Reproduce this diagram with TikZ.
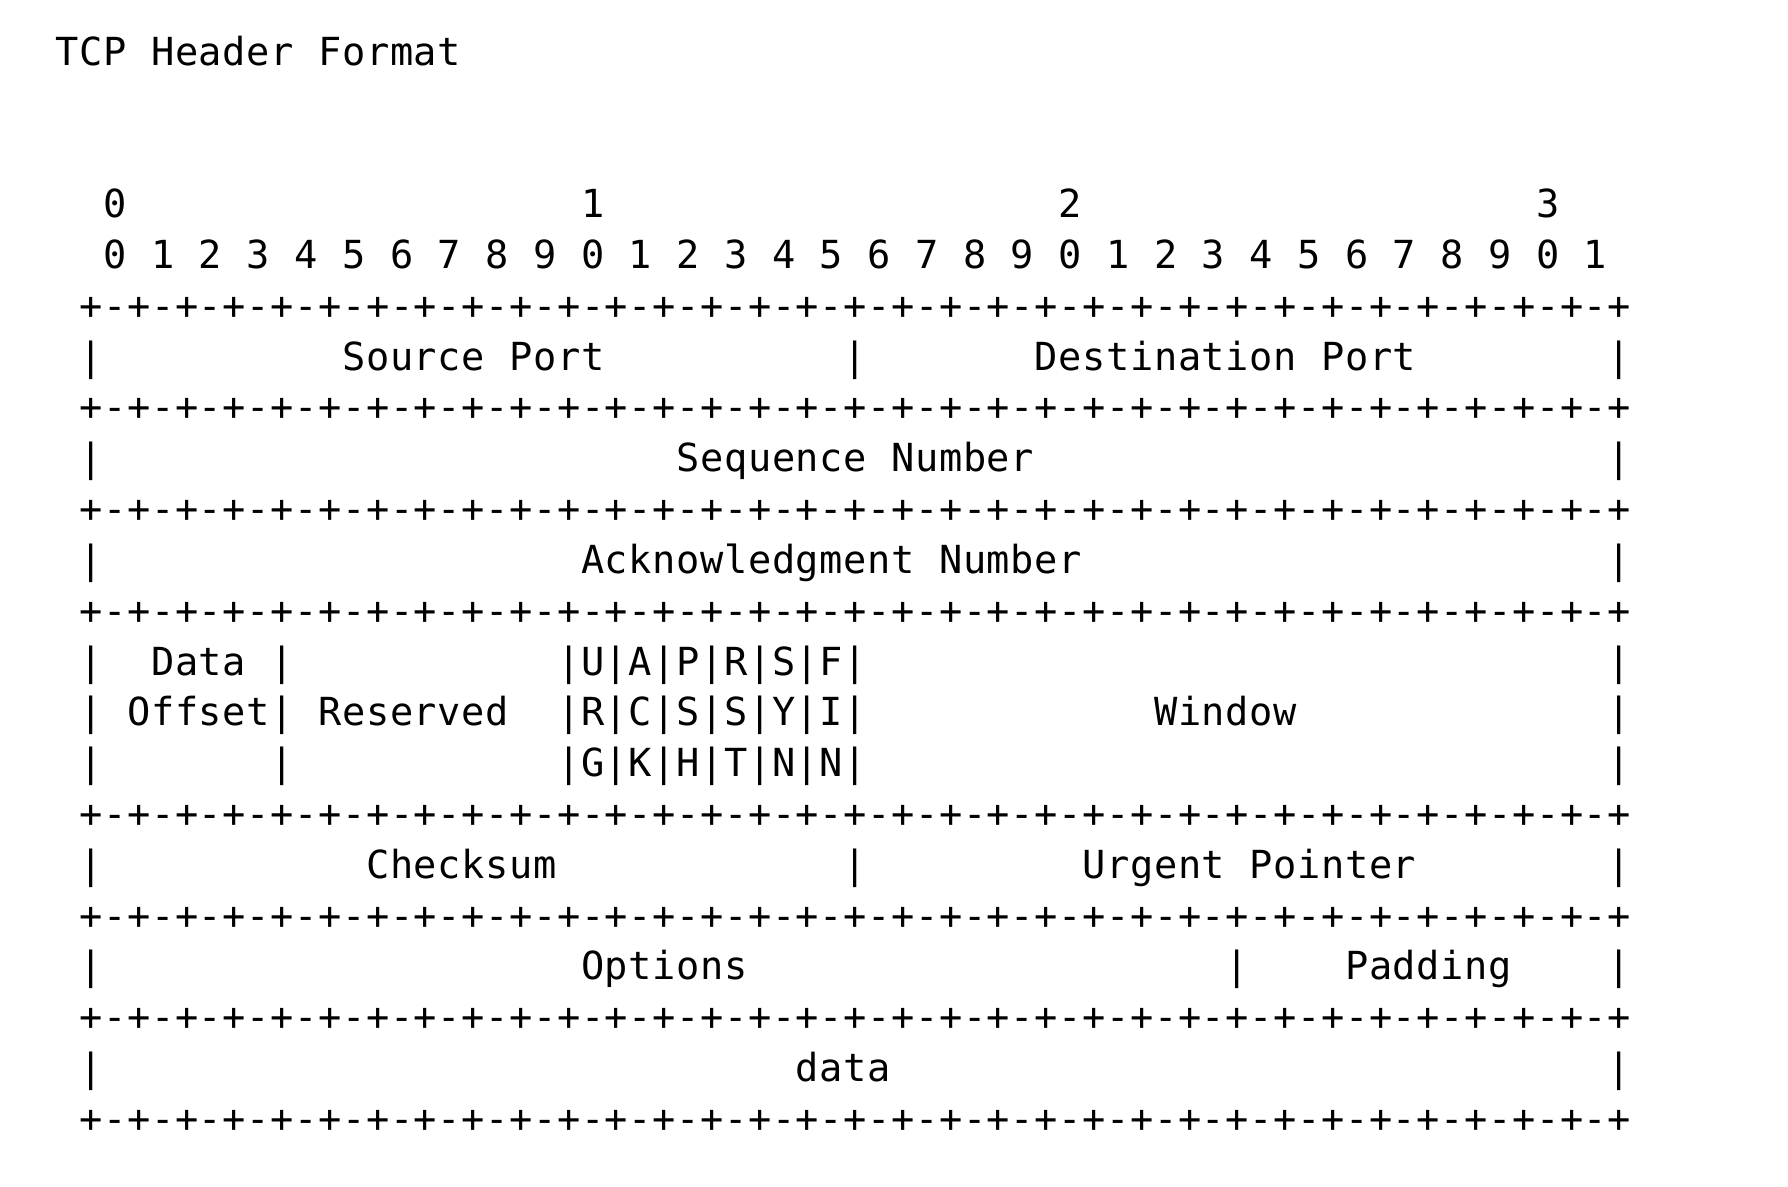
\documentclass[tikz,border=0pt]{standalone}
\usepackage{fontspec}
\newfontfamily\asciifont[RawFeature=+zero]{DejaVu Sans Mono}
\newcount\pwcol
\def\pwy{0}
\def\pwput#1{\node[ch] (c\pwy-\the\pwcol) at (\the\pwcol,\pwy) {#1};\global\advance\pwcol by 1\relax}
\def\pwnext#1{\ifx\relax#1\let\pwact\relax\else\def\pwact{\pwput{#1}\pwnext}\fi\pwact}
\newcommand\pw[3]{\global\pwcol=#1\relax\def\pwy{#2}\pwnext#3\relax}
\def\sepstr{+-+-+-+-+-+-+-+-+-+-+-+-+-+-+-+-+-+-+-+-+-+-+-+-+-+-+-+-+-+-+-+-+}
\newcommand\sepline[1]{\global\pwcol=3\relax\def\pwy{#1}\expandafter\pwnext\sepstr\relax}
\tikzset{ch/.style={anchor=base, inner sep=0pt, text=black, font={\asciifont\fontsize{11pt}{12pt}\selectfont}}}
\begin{document}
\begin{tikzpicture}
\path[fill=white, use as bounding box] (0,0) rectangle (17.88,-11.86);
\begin{scope}[shift={(0.1959cm,-0.653cm)}, x=0.23878cm, y=-0.5081cm]
% title
\pw{2}{0}{TCP}\pw{6}{0}{Header}\pw{13}{0}{Format}
% bit numbers
\pw{4}{3}{0}\pw{24}{3}{1}\pw{44}{3}{2}\pw{64}{3}{3}
\foreach \i in {0,...,31}{%
  \pgfmathtruncatemacro\dg{mod(\i,10)}%
  \pgfmathtruncatemacro\cc{4+2*\i}%
  \node[ch] (d\i) at (\cc,4) {\dg};}
\sepline{5}
\pw{3}{6}{|}\pw{14}{6}{Source}\pw{21}{6}{Port}\pw{35}{6}{|}\pw{43}{6}{Destination}\pw{55}{6}{Port}\pw{67}{6}{|}
\sepline{7}
\pw{3}{8}{|}\pw{28}{8}{Sequence}\pw{37}{8}{Number}\pw{67}{8}{|}
\sepline{9}
\pw{3}{10}{|}\pw{24}{10}{Acknowledgment}\pw{39}{10}{Number}\pw{67}{10}{|}
\sepline{11}
\pw{3}{12}{|}\pw{6}{12}{Data}\pw{11}{12}{|}\pw{23}{12}{|U|A|P|R|S|F|}\pw{67}{12}{|}
\pw{3}{13}{|}\pw{5}{13}{Offset|}\pw{13}{13}{Reserved}\pw{23}{13}{|R|C|S|S|Y|I|}\pw{48}{13}{Window}\pw{67}{13}{|}
\pw{3}{14}{|}\pw{11}{14}{|}\pw{23}{14}{|G|K|H|T|N|N|}\pw{67}{14}{|}
\sepline{15}
\pw{3}{16}{|}\pw{15}{16}{Checksum}\pw{35}{16}{|}\pw{45}{16}{Urgent}\pw{52}{16}{Pointer}\pw{67}{16}{|}
\sepline{17}
\pw{3}{18}{|}\pw{24}{18}{Options}\pw{51}{18}{|}\pw{56}{18}{Padding}\pw{67}{18}{|}
\sepline{19}
\pw{3}{20}{|}\pw{33}{20}{data}\pw{67}{20}{|}
\sepline{21}
\end{scope}
\end{tikzpicture}
\end{document}
